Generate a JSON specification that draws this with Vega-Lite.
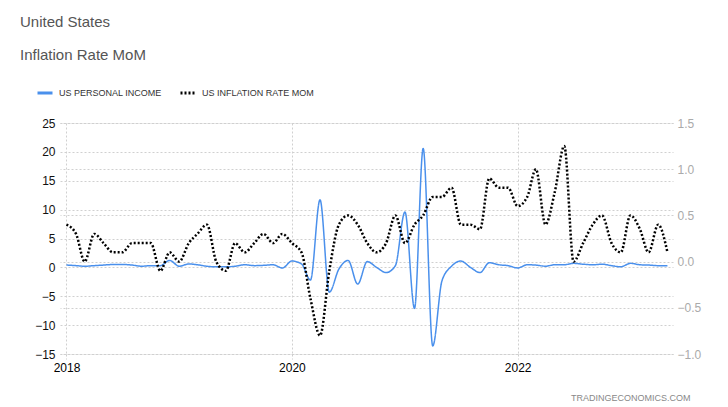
{
  "$schema": "https://vega.github.io/schema/vega-lite/v6.json",
  "width": 613,
  "height": 231,
  "autosize": "none",
  "padding": {"left": 60, "top": 123, "right": 55, "bottom": 53},
  "background": "#ffffff",
  "title": {
    "text": "United States",
    "subtitle": "Inflation Rate MoM",
    "anchor": "start",
    "frame": "group",
    "orient": "top",
    "dx": -40,
    "offset": 21,
    "font": "Liberation Sans",
    "fontSize": 15,
    "fontWeight": "normal",
    "color": "#555555",
    "subtitleFont": "Liberation Sans",
    "subtitleFontSize": 15,
    "subtitleColor": "#555555",
    "subtitlePadding": 18
  },
  "config": {
    "view": {"stroke": null},
    "font": "Liberation Sans",
    "legend": {"padding": 0}
  },
  "data": {
    "values": [
      {"date": "2018-01-01", "series": "US PERSONAL INCOME", "value": 0.4},
      {"date": "2018-02-01", "series": "US PERSONAL INCOME", "value": 0.3},
      {"date": "2018-03-01", "series": "US PERSONAL INCOME", "value": 0.2},
      {"date": "2018-04-01", "series": "US PERSONAL INCOME", "value": 0.3},
      {"date": "2018-05-01", "series": "US PERSONAL INCOME", "value": 0.4},
      {"date": "2018-06-01", "series": "US PERSONAL INCOME", "value": 0.5},
      {"date": "2018-07-01", "series": "US PERSONAL INCOME", "value": 0.5},
      {"date": "2018-08-01", "series": "US PERSONAL INCOME", "value": 0.4},
      {"date": "2018-09-01", "series": "US PERSONAL INCOME", "value": 0.2},
      {"date": "2018-10-01", "series": "US PERSONAL INCOME", "value": 0.3},
      {"date": "2018-11-01", "series": "US PERSONAL INCOME", "value": 0.3},
      {"date": "2018-12-01", "series": "US PERSONAL INCOME", "value": 1.2},
      {"date": "2019-01-01", "series": "US PERSONAL INCOME", "value": 0.2},
      {"date": "2019-02-01", "series": "US PERSONAL INCOME", "value": 0.6},
      {"date": "2019-03-01", "series": "US PERSONAL INCOME", "value": 0.45},
      {"date": "2019-04-01", "series": "US PERSONAL INCOME", "value": 0.2},
      {"date": "2019-05-01", "series": "US PERSONAL INCOME", "value": 0.1},
      {"date": "2019-06-01", "series": "US PERSONAL INCOME", "value": 0.1},
      {"date": "2019-07-01", "series": "US PERSONAL INCOME", "value": 0.2},
      {"date": "2019-08-01", "series": "US PERSONAL INCOME", "value": 0.45},
      {"date": "2019-09-01", "series": "US PERSONAL INCOME", "value": 0.3},
      {"date": "2019-10-01", "series": "US PERSONAL INCOME", "value": 0.35},
      {"date": "2019-11-01", "series": "US PERSONAL INCOME", "value": 0.45},
      {"date": "2019-12-01", "series": "US PERSONAL INCOME", "value": -0.1},
      {"date": "2020-01-01", "series": "US PERSONAL INCOME", "value": 1.1},
      {"date": "2020-02-01", "series": "US PERSONAL INCOME", "value": 0.6},
      {"date": "2020-03-01", "series": "US PERSONAL INCOME", "value": -2.2},
      {"date": "2020-04-01", "series": "US PERSONAL INCOME", "value": 11.7},
      {"date": "2020-05-01", "series": "US PERSONAL INCOME", "value": -4.3},
      {"date": "2020-06-01", "series": "US PERSONAL INCOME", "value": -0.3},
      {"date": "2020-07-01", "series": "US PERSONAL INCOME", "value": 1.2},
      {"date": "2020-08-01", "series": "US PERSONAL INCOME", "value": -2.9},
      {"date": "2020-09-01", "series": "US PERSONAL INCOME", "value": 1.0},
      {"date": "2020-10-01", "series": "US PERSONAL INCOME", "value": 0.0},
      {"date": "2020-11-01", "series": "US PERSONAL INCOME", "value": -0.9},
      {"date": "2020-12-01", "series": "US PERSONAL INCOME", "value": 0.3},
      {"date": "2021-01-01", "series": "US PERSONAL INCOME", "value": 9.6},
      {"date": "2021-02-01", "series": "US PERSONAL INCOME", "value": -7.1},
      {"date": "2021-03-01", "series": "US PERSONAL INCOME", "value": 20.6},
      {"date": "2021-04-01", "series": "US PERSONAL INCOME", "value": -13.6},
      {"date": "2021-05-01", "series": "US PERSONAL INCOME", "value": -2.3},
      {"date": "2021-06-01", "series": "US PERSONAL INCOME", "value": 0.2},
      {"date": "2021-07-01", "series": "US PERSONAL INCOME", "value": 1.1},
      {"date": "2021-08-01", "series": "US PERSONAL INCOME", "value": 0.0},
      {"date": "2021-09-01", "series": "US PERSONAL INCOME", "value": -0.9},
      {"date": "2021-10-01", "series": "US PERSONAL INCOME", "value": 0.8},
      {"date": "2021-11-01", "series": "US PERSONAL INCOME", "value": 0.45},
      {"date": "2021-12-01", "series": "US PERSONAL INCOME", "value": 0.3},
      {"date": "2022-01-01", "series": "US PERSONAL INCOME", "value": -0.1},
      {"date": "2022-02-01", "series": "US PERSONAL INCOME", "value": 0.45},
      {"date": "2022-03-01", "series": "US PERSONAL INCOME", "value": 0.4},
      {"date": "2022-04-01", "series": "US PERSONAL INCOME", "value": 0.2},
      {"date": "2022-05-01", "series": "US PERSONAL INCOME", "value": 0.45},
      {"date": "2022-06-01", "series": "US PERSONAL INCOME", "value": 0.45},
      {"date": "2022-07-01", "series": "US PERSONAL INCOME", "value": 0.7},
      {"date": "2022-08-01", "series": "US PERSONAL INCOME", "value": 0.55},
      {"date": "2022-09-01", "series": "US PERSONAL INCOME", "value": 0.45},
      {"date": "2022-10-01", "series": "US PERSONAL INCOME", "value": 0.55},
      {"date": "2022-11-01", "series": "US PERSONAL INCOME", "value": 0.3},
      {"date": "2022-12-01", "series": "US PERSONAL INCOME", "value": 0.1},
      {"date": "2023-01-01", "series": "US PERSONAL INCOME", "value": 0.7},
      {"date": "2023-02-01", "series": "US PERSONAL INCOME", "value": 0.45},
      {"date": "2023-03-01", "series": "US PERSONAL INCOME", "value": 0.4},
      {"date": "2023-04-01", "series": "US PERSONAL INCOME", "value": 0.3},
      {"date": "2023-05-01", "series": "US PERSONAL INCOME", "value": 0.3},
      {"date": "2018-01-01", "series": "US INFLATION RATE MOM", "value": 0.4},
      {"date": "2018-02-01", "series": "US INFLATION RATE MOM", "value": 0.3},
      {"date": "2018-03-01", "series": "US INFLATION RATE MOM", "value": 0.0},
      {"date": "2018-04-01", "series": "US INFLATION RATE MOM", "value": 0.3},
      {"date": "2018-05-01", "series": "US INFLATION RATE MOM", "value": 0.2},
      {"date": "2018-06-01", "series": "US INFLATION RATE MOM", "value": 0.1},
      {"date": "2018-07-01", "series": "US INFLATION RATE MOM", "value": 0.1},
      {"date": "2018-08-01", "series": "US INFLATION RATE MOM", "value": 0.2},
      {"date": "2018-09-01", "series": "US INFLATION RATE MOM", "value": 0.2},
      {"date": "2018-10-01", "series": "US INFLATION RATE MOM", "value": 0.2},
      {"date": "2018-11-01", "series": "US INFLATION RATE MOM", "value": -0.1},
      {"date": "2018-12-01", "series": "US INFLATION RATE MOM", "value": 0.1},
      {"date": "2019-01-01", "series": "US INFLATION RATE MOM", "value": 0.0},
      {"date": "2019-02-01", "series": "US INFLATION RATE MOM", "value": 0.2},
      {"date": "2019-03-01", "series": "US INFLATION RATE MOM", "value": 0.3},
      {"date": "2019-04-01", "series": "US INFLATION RATE MOM", "value": 0.4},
      {"date": "2019-05-01", "series": "US INFLATION RATE MOM", "value": 0.0},
      {"date": "2019-06-01", "series": "US INFLATION RATE MOM", "value": -0.1},
      {"date": "2019-07-01", "series": "US INFLATION RATE MOM", "value": 0.2},
      {"date": "2019-08-01", "series": "US INFLATION RATE MOM", "value": 0.1},
      {"date": "2019-09-01", "series": "US INFLATION RATE MOM", "value": 0.2},
      {"date": "2019-10-01", "series": "US INFLATION RATE MOM", "value": 0.3},
      {"date": "2019-11-01", "series": "US INFLATION RATE MOM", "value": 0.2},
      {"date": "2019-12-01", "series": "US INFLATION RATE MOM", "value": 0.3},
      {"date": "2020-01-01", "series": "US INFLATION RATE MOM", "value": 0.2},
      {"date": "2020-02-01", "series": "US INFLATION RATE MOM", "value": 0.1},
      {"date": "2020-03-01", "series": "US INFLATION RATE MOM", "value": -0.4},
      {"date": "2020-04-01", "series": "US INFLATION RATE MOM", "value": -0.8},
      {"date": "2020-05-01", "series": "US INFLATION RATE MOM", "value": -0.1},
      {"date": "2020-06-01", "series": "US INFLATION RATE MOM", "value": 0.4},
      {"date": "2020-07-01", "series": "US INFLATION RATE MOM", "value": 0.5},
      {"date": "2020-08-01", "series": "US INFLATION RATE MOM", "value": 0.4},
      {"date": "2020-09-01", "series": "US INFLATION RATE MOM", "value": 0.2},
      {"date": "2020-10-01", "series": "US INFLATION RATE MOM", "value": 0.1},
      {"date": "2020-11-01", "series": "US INFLATION RATE MOM", "value": 0.2},
      {"date": "2020-12-01", "series": "US INFLATION RATE MOM", "value": 0.5},
      {"date": "2021-01-01", "series": "US INFLATION RATE MOM", "value": 0.2},
      {"date": "2021-02-01", "series": "US INFLATION RATE MOM", "value": 0.4},
      {"date": "2021-03-01", "series": "US INFLATION RATE MOM", "value": 0.5},
      {"date": "2021-04-01", "series": "US INFLATION RATE MOM", "value": 0.7},
      {"date": "2021-05-01", "series": "US INFLATION RATE MOM", "value": 0.7},
      {"date": "2021-06-01", "series": "US INFLATION RATE MOM", "value": 0.8},
      {"date": "2021-07-01", "series": "US INFLATION RATE MOM", "value": 0.4},
      {"date": "2021-08-01", "series": "US INFLATION RATE MOM", "value": 0.4},
      {"date": "2021-09-01", "series": "US INFLATION RATE MOM", "value": 0.35},
      {"date": "2021-10-01", "series": "US INFLATION RATE MOM", "value": 0.9},
      {"date": "2021-11-01", "series": "US INFLATION RATE MOM", "value": 0.8},
      {"date": "2021-12-01", "series": "US INFLATION RATE MOM", "value": 0.8},
      {"date": "2022-01-01", "series": "US INFLATION RATE MOM", "value": 0.6},
      {"date": "2022-02-01", "series": "US INFLATION RATE MOM", "value": 0.7},
      {"date": "2022-03-01", "series": "US INFLATION RATE MOM", "value": 1.0},
      {"date": "2022-04-01", "series": "US INFLATION RATE MOM", "value": 0.4},
      {"date": "2022-05-01", "series": "US INFLATION RATE MOM", "value": 0.75},
      {"date": "2022-06-01", "series": "US INFLATION RATE MOM", "value": 1.25},
      {"date": "2022-07-01", "series": "US INFLATION RATE MOM", "value": 0.0},
      {"date": "2022-08-01", "series": "US INFLATION RATE MOM", "value": 0.2},
      {"date": "2022-09-01", "series": "US INFLATION RATE MOM", "value": 0.4},
      {"date": "2022-10-01", "series": "US INFLATION RATE MOM", "value": 0.5},
      {"date": "2022-11-01", "series": "US INFLATION RATE MOM", "value": 0.2},
      {"date": "2022-12-01", "series": "US INFLATION RATE MOM", "value": 0.1},
      {"date": "2023-01-01", "series": "US INFLATION RATE MOM", "value": 0.5},
      {"date": "2023-02-01", "series": "US INFLATION RATE MOM", "value": 0.35},
      {"date": "2023-03-01", "series": "US INFLATION RATE MOM", "value": 0.1},
      {"date": "2023-04-01", "series": "US INFLATION RATE MOM", "value": 0.4},
      {"date": "2023-05-01", "series": "US INFLATION RATE MOM", "value": 0.1}
    ]
  },
  "encoding": {
    "x": {
      "field": "date",
      "type": "temporal",
      "scale": {"domain": [{"year": 2017, "month": 12, "date": 11}, {"year": 2023, "month": 5, "date": 19}]},
      "axis": {
        "values": [{"year": 2018, "month": 1, "date": 1}, {"year": 2020, "month": 1, "date": 1}, {"year": 2022, "month": 1, "date": 1}],
        "format": "%Y",
        "labelFont": "Liberation Sans",
        "labelFontSize": 12,
        "labelColor": "#000000",
        "labelPadding": 3,
        "tickSize": 5,
        "tickColor": "#cccccc",
        "tickDash": [2, 2],
        "domain": false,
        "grid": true,
        "gridColor": "#d0d0d0",
        "gridDash": [2, 2],
        "title": "TRADINGECONOMICS.COM",
        "titleFont": "Liberation Sans",
        "titleFontSize": 9,
        "titleFontWeight": "normal",
        "titleColor": "#888888",
        "titleAnchor": "end",
        "titleAlign": "right",
        "titleX": 630,
        "titleY": 43,
        "titleBaseline": "middle"
      }
    },
    "color": {
      "field": "series",
      "type": "nominal",
      "scale": {"domain": ["US PERSONAL INCOME", "US INFLATION RATE MOM"], "range": ["#4a90ec", "#000000"]},
      "legend": {
        "title": null,
        "orient": "none",
        "direction": "horizontal",
        "legendX": -24,
        "legendY": -39,
        "symbolType": "stroke",
        "symbolStrokeWidth": 3,
        "symbolSize": 225,
        "labelFont": "Liberation Sans",
        "labelFontSize": 9,
        "labelColor": "#333333",
        "labelOffset": 5,
        "columnPadding": 12
      }
    },
    "strokeDash": {
      "field": "series",
      "type": "nominal",
      "scale": {"domain": ["US PERSONAL INCOME", "US INFLATION RATE MOM"], "range": [[1, 0], [2, 2]]},
      "legend": {
        "title": null,
        "orient": "none",
        "direction": "horizontal",
        "legendX": -24,
        "legendY": -39,
        "symbolType": "stroke",
        "symbolStrokeWidth": 3,
        "symbolSize": 225,
        "labelFont": "Liberation Sans",
        "labelFontSize": 9,
        "labelColor": "#333333",
        "labelOffset": 5,
        "columnPadding": 12
      }
    }
  },
  "layer": [
    {
      "transform": [{"filter": "datum.series === 'US PERSONAL INCOME'"}],
      "mark": {"type": "line", "interpolate": "monotone", "strokeWidth": 1.5},
      "encoding": {
        "y": {
          "field": "value",
          "type": "quantitative",
          "scale": {"domain": [-15, 25], "nice": false, "zero": false},
          "axis": {
            "orient": "left",
            "values": [-15, -10, -5, 0, 5, 10, 15, 20, 25],
            "title": null,
            "domain": false,
            "ticks": false,
            "labelPadding": 5,
            "labelFont": "Liberation Sans",
            "labelFontSize": 12,
            "labelColor": "#111111",
            "grid": true,
            "gridColor": "#d0d0d0",
            "gridDash": [2, 2]
          }
        }
      }
    },
    {
      "transform": [{"filter": "datum.series === 'US INFLATION RATE MOM'"}],
      "mark": {"type": "line", "interpolate": "monotone", "strokeWidth": 2.5},
      "encoding": {
        "y": {
          "field": "value",
          "type": "quantitative",
          "scale": {"domain": [-1, 1.5], "nice": false, "zero": false},
          "axis": {
            "orient": "right",
            "values": [-1, -0.5, 0, 0.5, 1, 1.5],
            "title": null,
            "domain": false,
            "ticks": false,
            "labelPadding": 4,
            "labelFont": "Liberation Sans",
            "labelFontSize": 12,
            "labelColor": "#aaaaaa",
            "grid": true,
            "gridColor": "#d0d0d0",
            "gridDash": [2, 2]
          }
        }
      }
    }
  ],
  "resolve": {"scale": {"y": "independent"}}
}
